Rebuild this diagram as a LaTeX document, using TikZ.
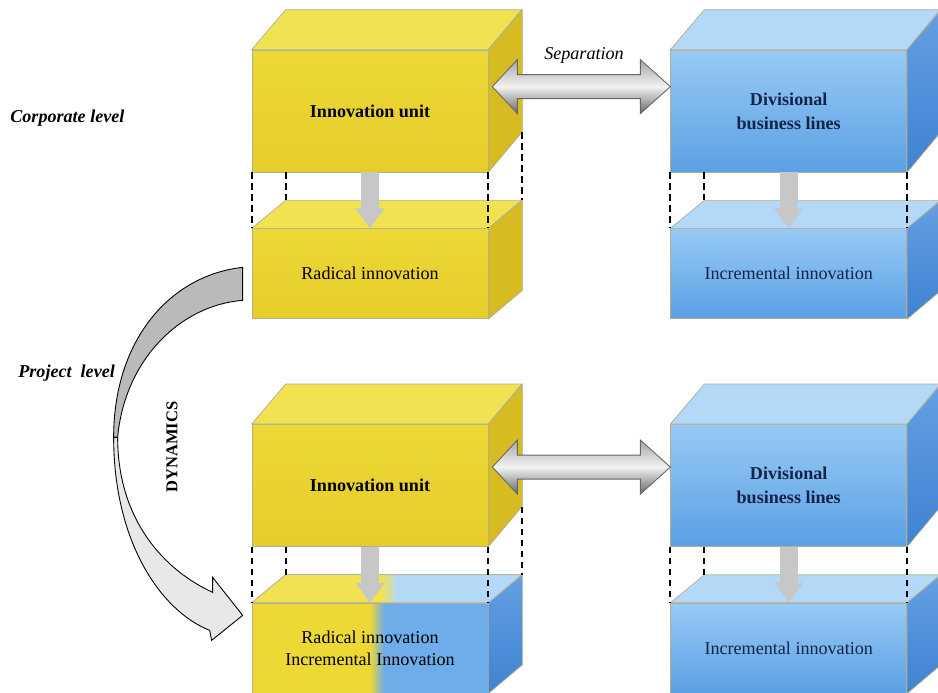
\documentclass[tikz,border=0pt]{standalone}
\usepackage{fontspec}
\setmainfont{Liberation Serif}
\usetikzlibrary{arrows.meta, positioning, calc}

\definecolor{ylwF}{RGB}{237,216,54}
\definecolor{ylwF2}{RGB}{230,205,42}
\definecolor{ylwT}{RGB}{241,226,82}
\definecolor{ylwS}{RGB}{214,188,34}
\definecolor{bluF}{RGB}{152,202,245}
\definecolor{bluF2}{RGB}{90,160,228}
\definecolor{bluM}{RGB}{110,172,234}
\definecolor{bluT}{RGB}{180,217,248}
\definecolor{bluS}{RGB}{100,160,226}
\definecolor{bluS2}{RGB}{62,130,210}
\definecolor{navy}{RGB}{20,36,74}
\definecolor{edge}{RGB}{175,175,150}

\pgfdeclarehorizontalshading{ybmix}{100bp}{color(0bp)=(ylwF); color(50bp)=(ylwF); color(53bp)=(bluM); color(100bp)=(bluM)}
\pgfdeclarehorizontalshading{ybtop}{100bp}{color(0bp)=(ylwT); color(49bp)=(ylwT); color(52bp)=(bluT); color(100bp)=(bluT)}

\tikzset{
  box/.style={rectangle, draw=edge, line width=0.4pt, inner sep=0pt, minimum width=47.2mm, align=center, font=\fontsize{10.3}{12.5}\selectfont},
  upbox/.style={box, minimum height=24.4mm, font=\fontsize{10.3}{13.5}\selectfont\bfseries},
  lowbox/.style={box, minimum height=18mm},
  ylw/.style={top color=ylwF, bottom color=ylwF2},
  blu/.style={top color=bluF, bottom color=bluF2, text=navy},
  mix/.style={shade, shading=ybmix},
  face/.style={draw=edge, line width=0.4pt},
  dropar/.style={line width=3.6mm, draw=black!22, -{Triangle[width=5.6mm, length=4mm]}},
  ghost/.style={draw=black, line width=0.45mm, dash pattern=on 1.3mm off 0.9mm},
  twin/.style={draw=black!60, line width=0.5pt, top color=black!35, bottom color=black!60, middle color=black!5},
  backband/.style={fill=black!27, draw=black, line width=0.5pt},
  frontband/.style={fill=black!9, draw=black, line width=0.5pt},
  lvl/.style={anchor=west, inner sep=0pt, font=\fontsize{10.3}{12}\selectfont\bfseries\itshape}
}

\begin{document}
\begin{tikzpicture}[x=0.2mm, y=-0.2mm]
\useasboundingbox (0,0) rectangle (938,692);

% corporate level
\node[upbox, ylw] (iuA) at (370,111) {Innovation unit};
\node[lowbox, ylw, below=11.2mm of iuA] (riA) {Radical innovation};
\node[upbox, blu, right=36.4mm of iuA] (dbA) {Divisional\\business lines};
\node[lowbox, blu, below=11.2mm of dbA] (inA) {Incremental innovation};

% project level
\node[upbox, ylw, below=21mm of riA] (iuB) {Innovation unit};
\node[lowbox, mix, below=11.2mm of iuB] (mixB) {Radical innovation\\Incremental Innovation};
\node[upbox, blu, right=36.4mm of iuB] (dbB) {Divisional\\business lines};
\node[lowbox, blu, below=11.2mm of dbB] (inB) {Incremental innovation};

% top and side faces
\foreach \n/\t/\s/\ss in {iuA/ylwT/ylwS/ylwS, iuB/ylwT/ylwS/ylwS, dbA/bluT/bluS/bluS2, dbB/bluT/bluS/bluS2}{
  \path[face, fill=\t] (\n.north west) -- ++(34,-40) -- ++(236,0) -- (\n.north east) -- cycle;
  \path[face, top color=\s, bottom color=\ss] (\n.north east) -- ++(34,-40) -- ++(0,122) -- (\n.south east) -- cycle;
}
\foreach \n/\t/\s/\ss in {riA/ylwT/ylwS/ylwS, inA/bluT/bluS/bluS2, mixB/bluT/bluS/bluS2, inB/bluT/bluS/bluS2}{
  \path[face, fill=\t] (\n.north west) -- ++(34,-28) -- ++(236,0) -- (\n.north east) -- cycle;
  \path[face, top color=\s, bottom color=\ss] (\n.north east) -- ++(34,-28) -- ++(0,90) -- (\n.south east) -- cycle;
}
\path[face, shade, shading=ybtop] (mixB.north west) -- ++(34,-28) -- ++(236,0) -- (mixB.north east) -- cycle;

% down arrows and dashed links
\foreach \u/\l in {iuA/riA, dbA/inA, iuB/mixB, dbB/inB}{
  \draw[dropar] (\u.south) -- (\l.north);
  \draw[ghost] (\u.south west) -- (\l.north west);
  \draw[ghost] ($(\u.south west)+(34,0)$) -- ($(\l.north west)+(34,-28)$);
  \draw[ghost] (\u.south east) -- (\l.north east);
  \draw[ghost] ($(\u.south east)+(34,-40)$) -- ($(\l.north east)+(34,-28)$);
}

% separation arrows
\coordinate (sepA) at ($(iuA.north east)+(4,37)$);
\coordinate (sepB) at (dbA.west |- sepA);
\coordinate (sepC) at ($(iuB.north east)+(4,43)$);
\coordinate (sepD) at (dbB.west |- sepC);
\foreach \p/\q in {sepA/sepB, sepC/sepD}{
  \path[twin] (\p) -- ++(25,-27) -- ++(0,15) -- ($(\q)+(-30,-12)$) -- ++(0,-15) -- (\q)
    -- ++(-30,27) -- ++(0,-15) -- ($(\p)+(25,12)$) -- ++(0,15) -- cycle;
}
\node[inner sep=0pt, font=\fontsize{10.3}{12}\selectfont\itshape] (sepl) at (584,55) {Separation};

% dynamics arrow
\begin{scope}[shift={($(riA.north west)+(-9,39)$)}]
  \path[backband] (0,0) .. controls (-73,8) and (-129,73) .. (-129,170) -- (-125,170)
    .. controls (-118,93) and (-63,38) .. (0,33) -- cycle;
  \path[frontband] (-129,170) .. controls (-129,273) and (-83,343) .. (-33,363) -- (-31,373)
    -- (0,348) -- (-30,310) -- (-30,325) .. controls (-78,303) and (-125,253) .. (-125,170) -- cycle;
\end{scope}
\node[rotate=90, inner sep=0pt, font=\fontsize{9.4}{10}\selectfont\bfseries] (dyn) at (172,447) {DYNAMICS};

% levels
\node[lvl] (corp) at (10,118) {Corporate level};
\node[lvl] (proj) at (18,373) {Project~~level};
\end{tikzpicture}
\end{document}
